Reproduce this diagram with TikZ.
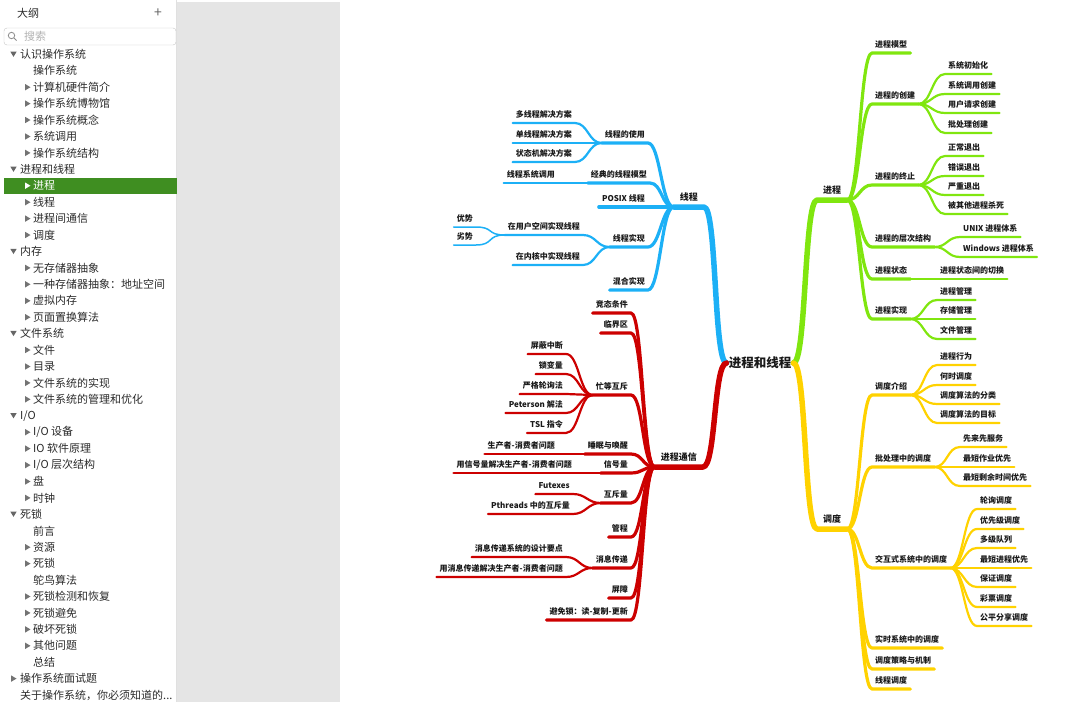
\documentclass[tikz,border=0pt]{standalone}
\usepackage{fontspec}
\setmainfont{Noto Sans CJK SC}
\definecolor{mmblue}{HTML}{1CB0F6}
\definecolor{mmred}{HTML}{CC0000}
\definecolor{mmgreen}{HTML}{80E60F}
\definecolor{mmyellow}{HTML}{FFD200}
\definecolor{olgreen}{HTML}{3F8E21}
\definecolor{panegray}{HTML}{E5E5E5}
\definecolor{oltext}{HTML}{2A2A2A}
\tikzset{
  % Gliederung links
  olhead/.style={anchor=west,inner sep=0pt,text=oltext,font=\fontsize{11}{13}\selectfont},
  olplus/.style={inner sep=0pt,text=black!60,font=\fontsize{14}{14}\selectfont},
  olsearch/.style={anchor=west,inner sep=0pt,text=black!30,font=\fontsize{11}{13}\selectfont},
  olrow/.style={anchor=west,inner sep=0pt,text=oltext,font=\fontsize{11}{13}\selectfont},
  olsel/.style={olrow,text=white},
  tdown/.pic={\fill (-3.2,-2.2) -- (3.2,-2.2) -- (0,3) -- cycle;},
  tright/.pic={\fill (-2.4,-3.2) -- (-2.4,3.2) -- (3,0) -- cycle;},
  % Mindmap
  hubnode/.style={inner sep=2pt,text=black!90,font=\fontsize{12.5}{14}\selectfont\bfseries},
  topic/.style={inner xsep=6pt,inner ysep=5.5pt,text depth=1pt,text=black!90,
                font=\fontsize{9}{10}\selectfont\bfseries},
  subt/.style={inner xsep=3pt,inner ysep=4pt,text depth=1pt,text=black!90,
               font=\fontsize{8}{9}\selectfont\bfseries},
  onright/.style={anchor=south west},
  onleft/.style={anchor=south east},
  b1/.style={line width=5.5pt,line cap=round,line join=round},
  b2/.style={line width=3.2pt,line cap=round,line join=round},
  b3/.style={line width=2.2pt,line cap=round,line join=round},
  b4/.style={line width=1.5pt,line cap=round,line join=round},
}
\begin{document}
\begin{tikzpicture}[x=1pt,y=-1pt]
\useasboundingbox (0,0) rectangle (1080,702);
% Seitenleiste
\fill[panegray] (177,2) rectangle (340,702);
\draw[black!12] (176.5,0) -- (176.5,702);
\node[olhead] (olt) at (17,13) {大纲};
\node[olplus] (oladd) at (158,13) {+};
\draw[black!22,fill=white,rounded corners=3pt] (4,28) rectangle (176,45);
\draw[black!45,line width=0.8pt] (11.5,35.5) circle (3.2) (13.8,37.8) -- (16.5,40.5);
\node[olsearch] (olq) at (24,36.5) {搜索};
\fill[olgreen] (4,177.7) rectangle (177,193.7);

\pic[black!60] at (13.5,53.8) {tdown};
\node[olrow] (o0) at (20,54.3) {认识操作系统};
\node[olrow] (o1) at (33,70.7) {操作系统};
\pic[black!55] at (27.5,87.2) {tright};
\node[olrow] (o2) at (33,87.2) {计算机硬件简介};
\pic[black!55] at (27.5,103.6) {tright};
\node[olrow] (o3) at (33,103.6) {操作系统博物馆};
\pic[black!55] at (27.5,120) {tright};
\node[olrow] (o4) at (33,120) {操作系统概念};
\pic[black!55] at (27.5,136.5) {tright};
\node[olrow] (o5) at (33,136.5) {系统调用};
\pic[black!55] at (27.5,152.9) {tright};
\node[olrow] (o6) at (33,152.9) {操作系统结构};
\pic[black!60] at (13.5,168.8) {tdown};
\node[olrow] (o7) at (20,169.3) {进程和线程};
\pic[white] at (27.5,185.7) {tright};
\node[olsel] (o8) at (33,185.7) {进程};
\pic[black!55] at (27.5,202.2) {tright};
\node[olrow] (o9) at (33,202.2) {线程};
\pic[black!55] at (27.5,218.6) {tright};
\node[olrow] (o10) at (33,218.6) {进程间通信};
\pic[black!55] at (27.5,235) {tright};
\node[olrow] (o11) at (33,235) {调度};
\pic[black!60] at (13.5,251) {tdown};
\node[olrow] (o12) at (20,251.5) {内存};
\pic[black!55] at (27.5,267.9) {tright};
\node[olrow] (o13) at (33,267.9) {无存储器抽象};
\pic[black!55] at (27.5,284.3) {tright};
\node[olrow] (o14) at (33,284.3) {一种存储器抽象：地址空间};
\pic[black!55] at (27.5,300.8) {tright};
\node[olrow] (o15) at (33,300.8) {虚拟内存};
\pic[black!55] at (27.5,317.2) {tright};
\node[olrow] (o16) at (33,317.2) {页面置换算法};
\pic[black!60] at (13.5,333.1) {tdown};
\node[olrow] (o17) at (20,333.6) {文件系统};
\pic[black!55] at (27.5,350) {tright};
\node[olrow] (o18) at (33,350) {文件};
\pic[black!55] at (27.5,366.5) {tright};
\node[olrow] (o19) at (33,366.5) {目录};
\pic[black!55] at (27.5,382.9) {tright};
\node[olrow] (o20) at (33,382.9) {文件系统的实现};
\pic[black!55] at (27.5,399.3) {tright};
\node[olrow] (o21) at (33,399.3) {文件系统的管理和优化};
\pic[black!60] at (13.5,415.3) {tdown};
\node[olrow] (o22) at (20,415.8) {I/O};
\pic[black!55] at (27.5,432.2) {tright};
\node[olrow] (o23) at (33,432.2) {I/O 设备};
\pic[black!55] at (27.5,448.6) {tright};
\node[olrow] (o24) at (33,448.6) {IO 软件原理};
\pic[black!55] at (27.5,465.1) {tright};
\node[olrow] (o25) at (33,465.1) {I/O 层次结构};
\pic[black!55] at (27.5,481.5) {tright};
\node[olrow] (o26) at (33,481.5) {盘};
\pic[black!55] at (27.5,497.9) {tright};
\node[olrow] (o27) at (33,497.9) {时钟};
\pic[black!60] at (13.5,513.8) {tdown};
\node[olrow] (o28) at (20,514.3) {死锁};
\node[olrow] (o29) at (33,530.8) {前言};
\pic[black!55] at (27.5,547.2) {tright};
\node[olrow] (o30) at (33,547.2) {资源};
\pic[black!55] at (27.5,563.6) {tright};
\node[olrow] (o31) at (33,563.6) {死锁};
\node[olrow] (o32) at (33,580.1) {鸵鸟算法};
\pic[black!55] at (27.5,596.5) {tright};
\node[olrow] (o33) at (33,596.5) {死锁检测和恢复};
\pic[black!55] at (27.5,612.9) {tright};
\node[olrow] (o34) at (33,612.9) {死锁避免};
\pic[black!55] at (27.5,629.4) {tright};
\node[olrow] (o35) at (33,629.4) {破坏死锁};
\pic[black!55] at (27.5,645.8) {tright};
\node[olrow] (o36) at (33,645.8) {其他问题};
\node[olrow] (o37) at (33,662.2) {总结};
\pic[black!55] at (13.5,678.6) {tright};
\node[olrow] (o38) at (20,678.6) {操作系统面试题};
\node[olrow] (o39) at (20,695.1) {关于操作系统，你必须知道的...};

% Mindmap
\node[hubnode] (hub) at (760,363) {进程和线程};

% --- 进程
\node[topic,onright] (proc) at (817,200) {进程};
\node[subt,onright] (pmod) at (872,53) {进程模型};
\node[subt,onright] (pnew) at (872,104) {进程的创建};
\node[subt,onright] (pnew1) at (945,74) {系统初始化};
\node[subt,onright] (pnew2) at (945,94) {系统调用创建};
\node[subt,onright] (pnew3) at (945,113) {用户请求创建};
\node[subt,onright] (pnew4) at (945,133) {批处理创建};
\node[subt,onright] (pend) at (872,185) {进程的终止};
\node[subt,onright] (pend1) at (945,156) {正常退出};
\node[subt,onright] (pend2) at (945,176) {错误退出};
\node[subt,onright] (pend3) at (945,195) {严重退出};
\node[subt,onright] (pend4) at (945,214) {被其他进程杀死};
\node[subt,onright] (phier) at (872,247) {进程的层次结构};
\node[subt,onright] (phier1) at (960,237) {UNIX 进程体系};
\node[subt,onright] (phier2) at (960,257) {Windows 进程体系};
\node[subt,onright] (pstat) at (872,279) {进程状态};
\node[subt,onright] (pstat1) at (937,279) {进程状态间的切换};
\node[subt,onright] (pimpl) at (872,319) {进程实现};
\node[subt,onright] (pimpl1) at (937,300) {进程管理};
\node[subt,onright] (pimpl2) at (937,319) {存储管理};
\node[subt,onright] (pimpl3) at (937,339) {文件管理};

% --- 调度
\node[topic,onright] (sched) at (817,529) {调度};
\node[subt,onright] (sint) at (872,395) {调度介绍};
\node[subt,onright] (sint1) at (937,365) {进程行为};
\node[subt,onright] (sint2) at (937,385) {何时调度};
\node[subt,onright] (sint3) at (937,404) {调度算法的分类};
\node[subt,onright] (sint4) at (937,423) {调度算法的目标};
\node[subt,onright] (sbat) at (872,467) {批处理中的调度};
\node[subt,onright] (sbat1) at (960,447) {先来先服务};
\node[subt,onright] (sbat2) at (960,467) {最短作业优先};
\node[subt,onright] (sbat3) at (960,486) {最短剩余时间优先};
\node[subt,onright] (sia) at (872,568) {交互式系统中的调度};
\node[subt,onright] (sia1) at (977,509) {轮询调度};
\node[subt,onright] (sia2) at (977,529) {优先级调度};
\node[subt,onright] (sia3) at (977,548) {多级队列};
\node[subt,onright] (sia4) at (977,568) {最短进程优先};
\node[subt,onright] (sia5) at (977,587) {保证调度};
\node[subt,onright] (sia6) at (977,607) {彩票调度};
\node[subt,onright] (sia7) at (977,626) {公平分享调度};
\node[subt,onright] (srt) at (872,648) {实时系统中的调度};
\node[subt,onright] (spol) at (872,669) {调度策略与机制};
\node[subt,onright] (sthr) at (872,689) {线程调度};

% --- 线程
\node[topic,onleft] (thr) at (704,207) {线程};
\node[subt,onleft] (tuse) at (648,143) {线程的使用};
\node[subt,onleft] (tuse1) at (575,123) {多线程解决方案};
\node[subt,onleft] (tuse2) at (575,143) {单线程解决方案};
\node[subt,onleft] (tuse3) at (575,162) {状态机解决方案};
\node[subt,onleft] (tmod) at (650,183) {经典的线程模型};
\node[subt,onleft] (tmod1) at (558,183) {线程系统调用};
\node[subt,onleft] (tpos) at (648,207) {POSIX 线程};
\node[subt,onleft] (timpl) at (648,247) {线程实现};
\node[subt,onleft] (timpl1) at (583,235) {在用户空间实现线程};
\node[subt,onleft] (adv) at (476,227) {优势};
\node[subt,onleft] (dis) at (476,245) {劣势};
\node[subt,onleft] (timpl2) at (583,265) {在内核中实现线程};
\node[subt,onleft] (tmix) at (648,290) {混合实现};

% --- 进程通信
\node[topic,onleft] (ipc) at (703,467) {进程通信};
\node[subt,onleft] (race) at (631,313) {竞态条件};
\node[subt,onleft] (crit) at (631,333) {临界区};
\node[subt,onleft] (busy) at (631,395) {忙等互斥};
\node[subt,onleft] (busy1) at (566,354) {屏蔽中断};
\node[subt,onleft] (busy2) at (566,374) {锁变量};
\node[subt,onleft] (busy3) at (566,394) {严格轮询法};
\node[subt,onleft] (busy4) at (566,413) {Peterson 解法};
\node[subt,onleft] (busy5) at (566,433) {TSL 指令};
\node[subt,onleft] (sleep) at (631,454) {睡眠与唤醒};
\node[subt,onleft] (sleep1) at (558,454) {生产者-消费者问题};
\node[subt,onleft] (sem) at (631,473) {信号量};
\node[subt,onleft] (sem1) at (575,473) {用信号量解决生产者-消费者问题};
\node[subt,onleft] (mutex) at (631,503) {互斥量};
\node[subt,onleft] (mutex1) at (573,494) {Futexes};
\node[subt,onleft] (mutex2) at (573,514) {Pthreads 中的互斥量};
\node[subt,onleft] (mon) at (631,537) {管程};
\node[subt,onleft] (msg) at (631,568) {消息传递};
\node[subt,onleft] (msg1) at (566,557) {消息传递系统的设计要点};
\node[subt,onleft] (msg2) at (566,577) {用消息传递解决生产者-消费者问题};
\node[subt,onleft] (bar) at (631,598) {屏障};
\node[subt,onleft] (rcu) at (631,620) {避免锁：读-复制-更新};

% Zweige
\draw[b1,mmgreen] (hub.east) .. controls +(13,0) and +(-13,0) .. (proc.south west) -- (proc.south east);
\draw[b1,mmyellow] (hub.east) .. controls +(13,0) and +(-13,0) .. (sched.south west) -- (sched.south east);
\draw[b1,mmblue] (hub.west) .. controls +(-13,0) and +(13,0) .. (thr.south east) -- (thr.south west);
\draw[b1,mmred] (hub.west) .. controls +(-13,0) and +(13,0) .. (ipc.south east) -- (ipc.south west);

\draw[b2,mmgreen] (proc.south east) .. controls +(12,0) and +(-12,0) .. (pmod.south west) -- (pmod.south east);
\draw[b2,mmgreen] (proc.south east) .. controls +(12,0) and +(-12,0) .. (pnew.south west) -- (pnew.south east);
\draw[b2,mmgreen] (proc.south east) .. controls +(12,0) and +(-12,0) .. (pend.south west) -- (pend.south east);
\draw[b2,mmgreen] (proc.south east) .. controls +(12,0) and +(-12,0) .. (phier.south west) -- (phier.south east);
\draw[b2,mmgreen] (proc.south east) .. controls +(12,0) and +(-12,0) .. (pstat.south west) -- (pstat.south east);
\draw[b2,mmgreen] (proc.south east) .. controls +(12,0) and +(-12,0) .. (pimpl.south west) -- (pimpl.south east);
\draw[b3,mmgreen] (pnew.south east) .. controls +(13,0) and +(-13,0) .. (pnew1.south west) -- (pnew1.south east);
\draw[b3,mmgreen] (pnew.south east) .. controls +(13,0) and +(-13,0) .. (pnew2.south west) -- (pnew2.south east);
\draw[b3,mmgreen] (pnew.south east) .. controls +(13,0) and +(-13,0) .. (pnew3.south west) -- (pnew3.south east);
\draw[b3,mmgreen] (pnew.south east) .. controls +(13,0) and +(-13,0) .. (pnew4.south west) -- (pnew4.south east);
\draw[b3,mmgreen] (pend.south east) .. controls +(13,0) and +(-13,0) .. (pend1.south west) -- (pend1.south east);
\draw[b3,mmgreen] (pend.south east) .. controls +(13,0) and +(-13,0) .. (pend2.south west) -- (pend2.south east);
\draw[b3,mmgreen] (pend.south east) .. controls +(13,0) and +(-13,0) .. (pend3.south west) -- (pend3.south east);
\draw[b3,mmgreen] (pend.south east) .. controls +(13,0) and +(-13,0) .. (pend4.south west) -- (pend4.south east);
\draw[b3,mmgreen] (phier.south east) .. controls +(13,0) and +(-13,0) .. (phier1.south west) -- (phier1.south east);
\draw[b3,mmgreen] (phier.south east) .. controls +(13,0) and +(-13,0) .. (phier2.south west) -- (phier2.south east);
\draw[b3,mmgreen] (pstat.south east) -- (pstat1.south west) -- (pstat1.south east);
\draw[b3,mmgreen] (pimpl.south east) .. controls +(13,0) and +(-13,0) .. (pimpl1.south west) -- (pimpl1.south east);
\draw[b3,mmgreen] (pimpl.south east) .. controls +(13,0) and +(-13,0) .. (pimpl2.south west) -- (pimpl2.south east);
\draw[b3,mmgreen] (pimpl.south east) .. controls +(13,0) and +(-13,0) .. (pimpl3.south west) -- (pimpl3.south east);

\draw[b2,mmyellow] (sched.south east) .. controls +(12,0) and +(-12,0) .. (sint.south west) -- (sint.south east);
\draw[b2,mmyellow] (sched.south east) .. controls +(12,0) and +(-12,0) .. (sbat.south west) -- (sbat.south east);
\draw[b2,mmyellow] (sched.south east) .. controls +(12,0) and +(-12,0) .. (sia.south west) -- (sia.south east);
\draw[b2,mmyellow] (sched.south east) .. controls +(12,0) and +(-12,0) .. (srt.south west) -- (srt.south east);
\draw[b2,mmyellow] (sched.south east) .. controls +(12,0) and +(-12,0) .. (spol.south west) -- (spol.south east);
\draw[b2,mmyellow] (sched.south east) .. controls +(12,0) and +(-12,0) .. (sthr.south west) -- (sthr.south east);
\draw[b3,mmyellow] (sint.south east) .. controls +(13,0) and +(-13,0) .. (sint1.south west) -- (sint1.south east);
\draw[b3,mmyellow] (sint.south east) .. controls +(13,0) and +(-13,0) .. (sint2.south west) -- (sint2.south east);
\draw[b3,mmyellow] (sint.south east) .. controls +(13,0) and +(-13,0) .. (sint3.south west) -- (sint3.south east);
\draw[b3,mmyellow] (sint.south east) .. controls +(13,0) and +(-13,0) .. (sint4.south west) -- (sint4.south east);
\draw[b3,mmyellow] (sbat.south east) .. controls +(13,0) and +(-13,0) .. (sbat1.south west) -- (sbat1.south east);
\draw[b3,mmyellow] (sbat.south east) .. controls +(13,0) and +(-13,0) .. (sbat2.south west) -- (sbat2.south east);
\draw[b3,mmyellow] (sbat.south east) .. controls +(13,0) and +(-13,0) .. (sbat3.south west) -- (sbat3.south east);
\draw[b3,mmyellow] (sia.south east) .. controls +(13,0) and +(-13,0) .. (sia1.south west) -- (sia1.south east);
\draw[b3,mmyellow] (sia.south east) .. controls +(13,0) and +(-13,0) .. (sia2.south west) -- (sia2.south east);
\draw[b3,mmyellow] (sia.south east) .. controls +(13,0) and +(-13,0) .. (sia3.south west) -- (sia3.south east);
\draw[b3,mmyellow] (sia.south east) .. controls +(13,0) and +(-13,0) .. (sia4.south west) -- (sia4.south east);
\draw[b3,mmyellow] (sia.south east) .. controls +(13,0) and +(-13,0) .. (sia5.south west) -- (sia5.south east);
\draw[b3,mmyellow] (sia.south east) .. controls +(13,0) and +(-13,0) .. (sia6.south west) -- (sia6.south east);
\draw[b3,mmyellow] (sia.south east) .. controls +(13,0) and +(-13,0) .. (sia7.south west) -- (sia7.south east);

\draw[b2,mmblue] (thr.south west) .. controls +(-12,0) and +(12,0) .. (tuse.south east) -- (tuse.south west);
\draw[b2,mmblue] (thr.south west) .. controls +(-12,0) and +(12,0) .. (tmod.south east) -- (tmod.south west);
\draw[b2,mmblue] (thr.south west) -- (tpos.south east) -- (tpos.south west);
\draw[b2,mmblue] (thr.south west) .. controls +(-12,0) and +(12,0) .. (timpl.south east) -- (timpl.south west);
\draw[b2,mmblue] (thr.south west) .. controls +(-12,0) and +(12,0) .. (tmix.south east) -- (tmix.south west);
\draw[b3,mmblue] (tuse.south west) .. controls +(-13,0) and +(13,0) .. (tuse1.south east) -- (tuse1.south west);
\draw[b3,mmblue] (tuse.south west) -- (tuse2.south east) -- (tuse2.south west);
\draw[b3,mmblue] (tuse.south west) .. controls +(-13,0) and +(13,0) .. (tuse3.south east) -- (tuse3.south west);
\draw[b3,mmblue] (tmod.south west) -- (tmod1.south east) -- (tmod1.south west);
\draw[b3,mmblue] (timpl.south west) .. controls +(-13,0) and +(13,0) .. (timpl1.south east) -- (timpl1.south west);
\draw[b3,mmblue] (timpl.south west) .. controls +(-13,0) and +(13,0) .. (timpl2.south east) -- (timpl2.south west);
\draw[b4,mmblue] (timpl1.south west) .. controls +(-18,0) and +(18,0) .. (adv.south east) -- (adv.south west);
\draw[b4,mmblue] (timpl1.south west) .. controls +(-18,0) and +(18,0) .. (dis.south east) -- (dis.south west);

\draw[b2,mmred] (ipc.south west) .. controls +(-12,0) and +(12,0) .. (race.south east) -- (race.south west);
\draw[b2,mmred] (ipc.south west) .. controls +(-12,0) and +(12,0) .. (crit.south east) -- (crit.south west);
\draw[b2,mmred] (ipc.south west) .. controls +(-12,0) and +(12,0) .. (busy.south east) -- (busy.south west);
\draw[b2,mmred] (ipc.south west) .. controls +(-12,0) and +(12,0) .. (sleep.south east) -- (sleep.south west);
\draw[b2,mmred] (ipc.south west) .. controls +(-12,0) and +(12,0) .. (sem.south east) -- (sem.south west);
\draw[b2,mmred] (ipc.south west) .. controls +(-12,0) and +(12,0) .. (mutex.south east) -- (mutex.south west);
\draw[b2,mmred] (ipc.south west) .. controls +(-12,0) and +(12,0) .. (mon.south east) -- (mon.south west);
\draw[b2,mmred] (ipc.south west) .. controls +(-12,0) and +(12,0) .. (msg.south east) -- (msg.south west);
\draw[b2,mmred] (ipc.south west) .. controls +(-12,0) and +(12,0) .. (bar.south east) -- (bar.south west);
\draw[b2,mmred] (ipc.south west) .. controls +(-12,0) and +(12,0) .. (rcu.south east) -- (rcu.south west);
\draw[b3,mmred] (busy.south west) .. controls +(-13,0) and +(13,0) .. (busy1.south east) -- (busy1.south west);
\draw[b3,mmred] (busy.south west) .. controls +(-13,0) and +(13,0) .. (busy2.south east) -- (busy2.south west);
\draw[b3,mmred] (busy.south west) .. controls +(-13,0) and +(13,0) .. (busy3.south east) -- (busy3.south west);
\draw[b3,mmred] (busy.south west) .. controls +(-13,0) and +(13,0) .. (busy4.south east) -- (busy4.south west);
\draw[b3,mmred] (busy.south west) .. controls +(-13,0) and +(13,0) .. (busy5.south east) -- (busy5.south west);
\draw[b3,mmred] (sleep.south west) -- (sleep1.south east) -- (sleep1.south west);
\draw[b3,mmred] (sem.south west) -- (sem1.south east) -- (sem1.south west);
\draw[b3,mmred] (mutex.south west) .. controls +(-13,0) and +(13,0) .. (mutex1.south east) -- (mutex1.south west);
\draw[b3,mmred] (mutex.south west) .. controls +(-13,0) and +(13,0) .. (mutex2.south east) -- (mutex2.south west);
\draw[b3,mmred] (msg.south west) .. controls +(-13,0) and +(13,0) .. (msg1.south east) -- (msg1.south west);
\draw[b3,mmred] (msg.south west) .. controls +(-13,0) and +(13,0) .. (msg2.south east) -- (msg2.south west);
\end{tikzpicture}
\end{document}
